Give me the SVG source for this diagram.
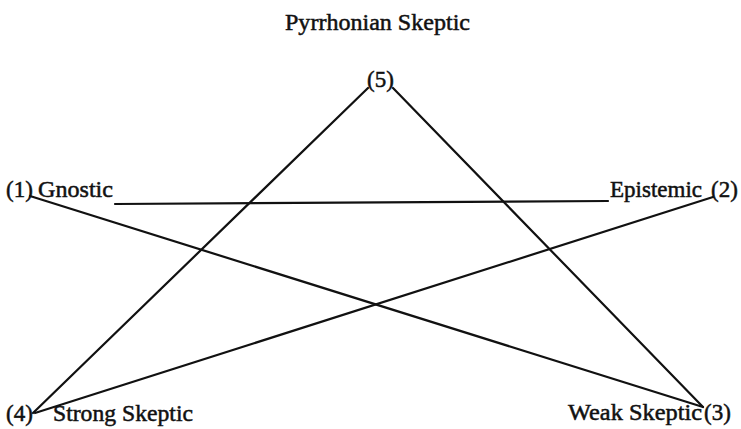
<svg xmlns="http://www.w3.org/2000/svg" width="741" height="429" viewBox="0 0 741 429">
<style>
text{font-family:"Liberation Serif","Times New Roman",serif;font-size:23px;fill:#111;stroke:#111;stroke-width:0.5}
.t{font-size:24px}
.c line{stroke:#111;stroke-width:2.2;stroke-linecap:round}
</style>
<rect width="741" height="429" fill="#fff"/>
<g class="c" id="connectors">
<line x1="368" y1="88" x2="33" y2="413"/>
<line x1="393" y1="88" x2="703" y2="407"/>
<line x1="30" y1="196" x2="703" y2="407"/>
<line x1="713" y1="197" x2="35" y2="413"/>
<line x1="115" y1="204" x2="608" y2="201"/>
</g>
<g id="title"><text class="t" x="285" y="30" textLength="185" lengthAdjust="spacingAndGlyphs">Pyrrhonian Skeptic</text></g>
<g id="n5"><text x="367" y="87">(5)</text></g>
<g id="n1"><text x="6" y="197">(1)</text><text x="38" y="197" textLength="75" lengthAdjust="spacingAndGlyphs">Gnostic</text></g>
<g id="n2"><text x="610" y="197">Epistemic</text><text x="711" y="197">(2)</text></g>
<g id="n4"><text x="6" y="421">(4)</text><text x="53" y="421" textLength="140" lengthAdjust="spacingAndGlyphs">Strong Skeptic</text></g>
<g id="n3"><text x="568" y="420" textLength="134" lengthAdjust="spacingAndGlyphs">Weak Skeptic</text><text x="704" y="420">(3)</text></g>
</svg>
